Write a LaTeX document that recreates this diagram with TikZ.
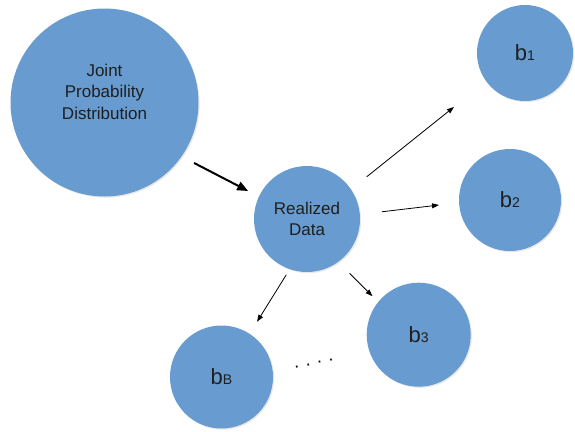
\documentclass[tikz,border=0pt]{standalone}
\usepackage{fontspec}
\setmainfont{Liberation Sans}
\usetikzlibrary{arrows.meta, shadows}
\definecolor{ballblue}{RGB}{104,155,207}
\newcommand{\bsub}[1]{{\fontsize{22}{22}\selectfont b}{\fontsize{14}{14}\selectfont #1}}

\begin{document}
\begin{tikzpicture}[x=1pt, y=-1pt,
  ball/.style={circle, fill=ballblue, draw=none, inner sep=0pt, align=center,
    text=black!88, font=\fontsize{17}{21.5}\selectfont,
    drop shadow={opacity=0.18, shadow xshift=1.2pt, shadow yshift=-1.2pt}},
  fl/.style={-{Triangle[length=7pt,width=5pt]}, line width=0.8pt},
  tfl/.style={-{Triangle[length=11pt,width=9pt]}, line width=2pt},
  dots/.style={font=\fontsize{18}{18}\selectfont, rotate=12, inner sep=0pt}
]
  \useasboundingbox (0,0) rectangle (575,431);

  \node[ball, minimum size=188pt] (jpd) at (104.5,102.5) {Joint\\Probability\\Distribution\\\mbox{}};
  \node[ball, minimum size=106pt] (rd)  at (307,219)     {Realized\\Data};
  \node[ball, minimum size=96pt]  (b1)  at (525,53)      {\bsub{1}};
  \node[ball, minimum size=102pt] (b2)  at (510,200)     {\bsub{2}};
  \node[ball, minimum size=104pt] (b3)  at (418.7,334.7) {\bsub{3}};
  \node[ball, minimum size=103pt] (bB)  at (221.5,377)   {\bsub{B}};
  \node[dots] (gap) at (314,363.5) {. . . .};

  \draw[tfl, shorten <=14pt, shorten >=12pt] (jpd.-35) -- (rd.155);
  \draw[fl, shorten <=20pt, shorten >=41pt] (rd.34) -- (b1.216);
  \draw[fl, shorten <=22pt, shorten >=20pt] (rd.5) -- (b2.183);
  \draw[fl, shorten <=16pt, shorten >=8pt] (rd.-54.5) -- (b3.141);
  \draw[fl, shorten <=6.5pt, shorten >=14pt] (rd.-109.7) -- (bB.57);
\end{tikzpicture}
\end{document}
